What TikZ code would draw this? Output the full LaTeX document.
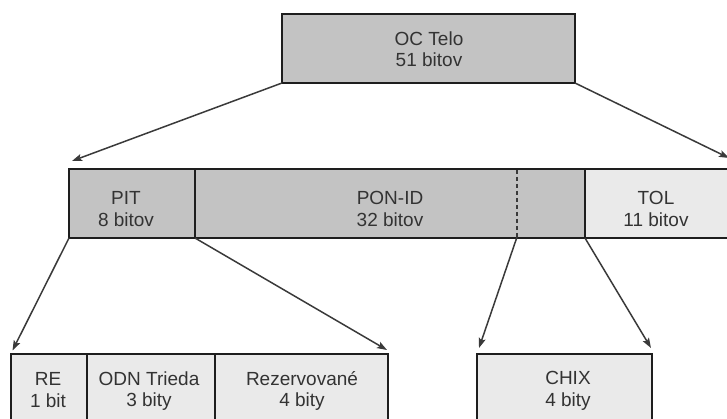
\documentclass[tikz,border=0pt]{standalone}
\usepackage{fontspec}
\setmainfont{Liberation Sans}
\usetikzlibrary{arrows.meta,positioning,calc}
\definecolor{fielddark}{HTML}{C3C3C3}
\definecolor{fieldlight}{HTML}{EAEAEA}
\definecolor{fieldtext}{HTML}{333333}
\definecolor{fieldline}{HTML}{1E1E1E}
\definecolor{arrowgray}{HTML}{3A3A3A}

\begin{document}
\begin{tikzpicture}[x=1pt,y=-1pt,
    field/.style={draw=fieldline, line width=2.6pt, rectangle, anchor=north west, inner sep=0pt, outer sep=0pt},
    dark/.style={field, fill=fielddark},
    light/.style={field, fill=fieldlight},
    txt/.style={align=center, text=fieldtext, font=\fontsize{19}{21.5}\selectfont, inner sep=0pt},
    arr/.style={draw=arrowgray, line width=1.5pt, -{Stealth[length=10pt,width=7pt,inset=2pt]}}]
    \useasboundingbox (0,0) rectangle (727,419);
    \clip (0,0) rectangle (727,419);

    % OC body
    \node[dark, minimum width=293pt, minimum height=69pt] (oc) at (282,14) {};
    \node[txt] (oc-t) at (429,49) {OC Telo\\51 bitov};

    % PIT, PON-ID, TOL
    \node[dark, minimum width=126pt, minimum height=69pt] (pit) at (69,169) {};
    \node[dark, minimum width=390pt, minimum height=69pt] (pon) at (195,169) {};
    \node[light, minimum width=160pt, minimum height=69pt] (tol) at (585,169) {};
    \node[txt] (pit-t) at (126,209) {PIT\\8 bitov};
    \node[txt] (pon-t) at (390,209) {PON-ID\\32 bitov};
    \node[txt] (tol-t) at (656,209) {TOL\\11 bitov};
    \coordinate (cut-top) at (517,170);
    \coordinate (cut-bot) at (517,237);
    \draw[arrowgray, line width=1.6pt, dash pattern=on 4pt off 3pt] (cut-top) -- (cut-bot);

    % PIT fields
    \node[light, minimum width=76pt, minimum height=90pt] (re) at (11,354) {};
    \node[light, minimum width=128pt, minimum height=90pt] (odn) at (87,354) {};
    \node[light, minimum width=173pt, minimum height=90pt] (rez) at (215,354) {};
    \node[txt] (re-t) at (48,390) {RE\\1 bit};
    \node[txt] (odn-t) at (149,391) {ODN Trieda\\3 bity};
    \node[txt] (rez-t) at (302,391) {Rezervované\\4 bity};

    % PON-ID field
    \node[light, minimum width=175pt, minimum height=90pt] (chix) at (477,354) {};
    \node[txt] (chix-t) at (568,391) {CHIX\\4 bity};

    % arrows
    \draw[arr] (oc.south west) -- ($(pit.north west)+(3,-8)$);
    \draw[arr] (oc.south east) -- ($(tol.north east)+(-16,-11)$);
    \draw[arr] (pit.south west) -- ($(re.north west)+(1.5,-3.5)$);
    \draw[arr] (pit.south east) -- ($(rez.north east)+(-1,-4)$);
    \draw[arr] (cut-bot) -- ($(chix.north west)+(2,-6)$);
    \draw[arr] (pon.south east) -- ($(chix.north east)+(-1,-6)$);
\end{tikzpicture}
\end{document}
